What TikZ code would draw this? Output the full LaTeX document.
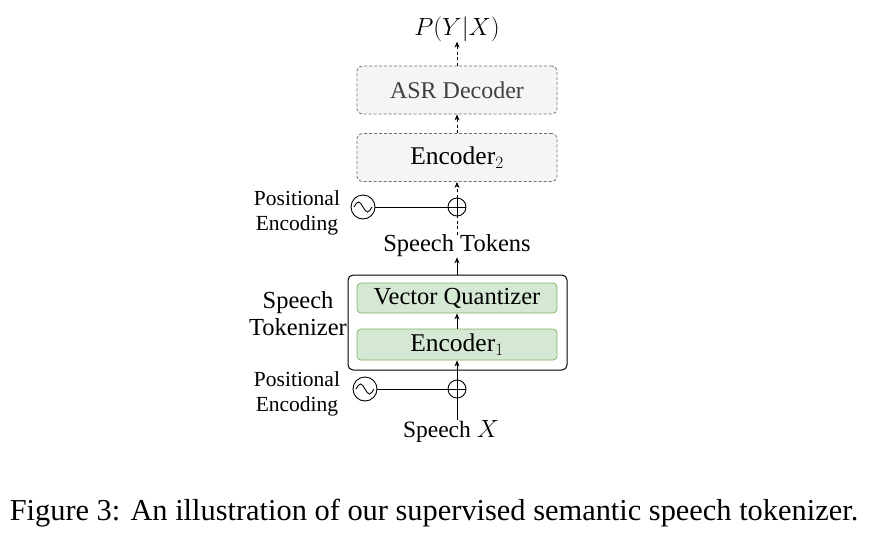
\documentclass[tikz,border=0pt]{standalone}
\usepackage{fontspec}
\setmainfont{Liberation Serif}
\usetikzlibrary{arrows.meta}
\definecolor{boxgrey}{HTML}{F5F5F5}
\definecolor{dashgrey}{HTML}{707070}
\definecolor{greenfill}{HTML}{D5E8D4}
\definecolor{greenline}{HTML}{82B366}
\definecolor{asrtext}{HTML}{404040}
\tikzset{
  lbl/.style={font=\fontsize{24.5}{27}\selectfont, inner sep=0pt, align=center},
  pelbl/.style={font=\fontsize{21.5}{25}\selectfont, inner sep=0pt, align=center},
  dashbox/.style={draw=dashgrey, dash pattern=on 3pt off 2pt, fill=boxgrey, rounded corners=5pt, line width=0.8pt,
    minimum width=200pt, minimum height=48pt, inner sep=0pt, font=\fontsize{24}{27}\selectfont},
  greenbox/.style={draw=greenline, fill=greenfill, rounded corners=4pt, line width=0.8pt,
    minimum width=200pt, inner sep=0pt, font=\fontsize{24.5}{27}\selectfont},
  outerbox/.style={draw=black, rounded corners=5pt, line width=1pt, minimum width=219pt, minimum height=95pt, inner sep=0pt},
  sinecirc/.style={draw, circle, minimum size=24pt, inner sep=0pt, line width=0.9pt},
  pluscirc/.style={draw, circle, minimum size=18pt, inner sep=0pt, line width=0.9pt},
  arr/.style={line width=0.9pt, -{Stealth[length=6pt,width=5pt]}},
  darr/.style={line width=0.9pt, dash pattern=on 3pt off 2.5pt, -{Stealth[length=6pt,width=5pt]}},
  dline/.style={line width=0.9pt, dash pattern=on 3pt off 2.5pt},
  sline/.style={line width=0.9pt},
}
\newcommand{\encfont}{\fontsize{25.5}{27}\selectfont}
\begin{document}
\begin{tikzpicture}[x=1pt,y=-1pt]
\useasboundingbox (0,0) rectangle (876,544);
% top output
\node[lbl, font=\fontsize{26}{28}\selectfont] (py) at (457,29) {$P(Y|X)$};
\node[dashbox, text=asrtext] (dec) at (457,90) {ASR Decoder};
\node[dashbox, font=\encfont] (enc2) at (457,157.5) {Encoder$_2$};
% positional encoding top
\node[sinecirc] (pe2) at (363,207) {};
\node[pluscirc] (plus2) at (457,207) {};
\node[pelbl] (pet2) at (297,213) {Positional\\Encoding};
\node[lbl] (tok) at (457,246) {Speech Tokens};
% tokenizer
\node[outerbox] (tokbox) at (457.5,322.5) {};
\node[greenbox, minimum height=30pt] (vq) at (457,298) {Vector Quantizer};
\node[greenbox, minimum height=31pt, font=\encfont] (enc1) at (457,344.5) {Encoder$_1$};
\node[lbl] (toklbl) at (298,314) {Speech\\Tokenizer};
% positional encoding bottom
\node[sinecirc] (pe1) at (365,389) {};
\node[pluscirc] (plus1) at (457,389) {};
\node[pelbl] (pet1) at (297,394) {Positional\\Encoding};
\node[lbl, font=\fontsize{23.5}{27}\selectfont] (sx) at (451,431) {Speech $X$};
% caption
\node[inner sep=0pt, font=\fontsize{30.4}{32}\selectfont] (cap) at (434,513) {Figure 3: An illustration of our supervised semantic speech tokenizer.};
% sine waves
\foreach \c in {pe1,pe2}{
  \draw[sline] ([xshift=-9pt]\c.center) sin +(4.5,-5) cos +(4.5,5) sin +(4.5,5) cos +(4.5,-5);
}
% plus crosses
\foreach \p in {plus1,plus2}{
  \draw[sline] (\p.north) -- (\p.south) (\p.west) -- (\p.east);
}
% horizontal links
\draw[sline] (pe2.east) -- (plus2.west);
\draw[sline] (pe1.east) -- (plus1.west);
% connectors
\draw[darr] (dec.north) -- (py.south);
\draw[darr] (enc2.north) -- (dec.south);
\draw[darr] (plus2.north) -- (enc2.south);
\draw[dline] (tok.north) -- (plus2.south);
\draw[arr] (tokbox.north -| tok.south) -- (tok.south);
\draw[arr] (enc1.north) -- (vq.south);
\draw[sline] (sx.north -| plus1) -- (plus1.south);
\draw[arr] (plus1.north) -- (enc1.south);
\end{tikzpicture}
\end{document}
